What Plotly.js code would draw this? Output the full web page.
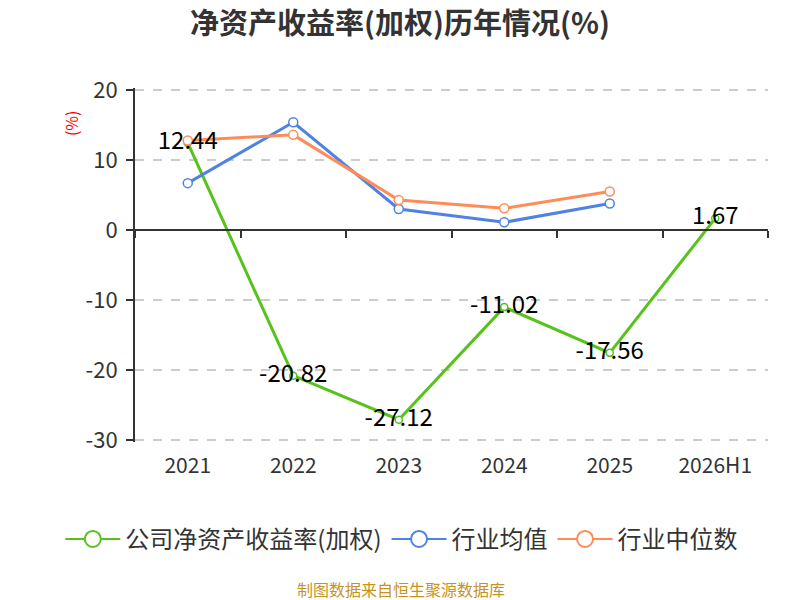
<!DOCTYPE html>
<html>
<head>
<meta charset="utf-8">
<script src="https://cdn.plot.ly/plotly-3.0.1.min.js"></script>
<style>
  html, body { margin: 0; padding: 0; background: #fff; }
  #grafico { width: 800px; height: 600px; }
</style>
</head>
<body>
<div id="grafico"></div>
<script>
// datos
const anios = ["2021", "2022", "2023", "2024", "2025", "2026H1"];
const roeEmpresa = [12.44, -20.82, -27.12, -11.02, -17.56, 1.67];
const promedioIndustria = [6.7, 15.4, 3.0, 1.1, 3.8, null];
const medianaIndustria = [12.8, 13.6, 4.3, 3.1, 5.5, null];
const nombresSeries = ["公司净资产收益率(加权)", "行业均值", "行业中位数"];
const ticksY = [20, 10, 0, -10, -20, -30];

const fuente = "'Noto Sans CJK SC', 'Noto Sans', sans-serif";

const colores = {
  verde: "#58c21c",
  azul: "#4f82e3",
  naranja: "#ff8c57"
};

// un poco de margen para que plotly dibuje la rejilla en 20 y -30
const rangoY = [-30.3, 20.3];

function serie(nombre, valores, color, tamMarca) {
  return {
    type: "scatter",
    mode: "lines+markers",
    name: nombre,
    x: anios,
    y: valores,
    line: { color: color, width: 3 },
    marker: {
      symbol: "circle",
      size: tamMarca,
      color: "#ffffff",
      line: { color: color, width: 1.5 }
    },
    cliponaxis: false,
    showlegend: false
  };
}

// solo para la leyenda (circulo grande, linea fina)
function itemLeyenda(nombre, color) {
  return {
    type: "scatter",
    mode: "lines+markers",
    name: nombre,
    x: anios,
    y: anios.map(() => null),
    line: { color: color, width: 2 },
    marker: {
      symbol: "circle",
      size: 18,
      color: "#ffffff",
      line: { color: color, width: 2 }
    },
    hoverinfo: "skip"
  };
}

const data = [
  serie(nombresSeries[0], roeEmpresa, colores.verde, 7),
  serie(nombresSeries[1], promedioIndustria, colores.azul, 9),
  serie(nombresSeries[2], medianaIndustria, colores.naranja, 9),
  // etiquetas de la empresa encima de todo
  {
    type: "scatter",
    mode: "text",
    x: anios,
    y: roeEmpresa,
    text: roeEmpresa.map(v => v.toFixed(2)),
    textposition: "middle center",
    textfont: { family: fuente, size: 24, color: "#000000" },
    showlegend: false,
    hoverinfo: "skip",
    cliponaxis: false
  },
  // eje auxiliar para las marcas en y = 0
  {
    type: "scatter",
    mode: "markers",
    x: anios,
    y: roeEmpresa,
    xaxis: "x2",
    marker: { opacity: 0 },
    showlegend: false,
    hoverinfo: "skip"
  },
  itemLeyenda(nombresSeries[0], colores.verde),
  itemLeyenda(nombresSeries[1], colores.azul),
  itemLeyenda(nombresSeries[2], colores.naranja)
];

const layout = {
  width: 800,
  height: 600,
  margin: { l: 135, r: 32, t: 88, b: 158 },
  paper_bgcolor: "#ffffff",
  plot_bgcolor: "#ffffff",
  font: { family: fuente, color: "#333333" },
  title: {
    text: "<b>净资产收益率(加权)历年情况(%)</b>",
    x: 0.5,
    xanchor: "center",
    y: 0.96,
    yanchor: "middle",
    font: { family: fuente, size: 29, color: "#333333" }
  },
  xaxis: {
    type: "category",
    range: [-0.5, 5.5],
    showline: false,
    showgrid: false,
    zeroline: false,
    ticks: "",
    tickfont: { family: fuente, size: 21, color: "#333333" },
    ticklabelstandoff: 9,
    fixedrange: true
  },
  xaxis2: {
    type: "category",
    overlaying: "x",
    anchor: "free",
    position: (0 - rangoY[0]) / (rangoY[1] - rangoY[0]),
    side: "bottom",
    range: [-0.5, 5.5],
    showline: true,
    linecolor: "#333333",
    linewidth: 2,
    ticks: "outside",
    tickson: "boundaries",
    ticklen: 7,
    tickwidth: 2,
    tickcolor: "#333333",
    showticklabels: false,
    showgrid: false,
    zeroline: false,
    fixedrange: true
  },
  yaxis: {
    range: rangoY,
    tickvals: ticksY,
    ticktext: ticksY.map(String),
    showline: true,
    linecolor: "#333333",
    linewidth: 2,
    ticks: "outside",
    ticklen: 7,
    tickwidth: 2,
    tickcolor: "#333333",
    tickfont: { family: fuente, size: 22, color: "#333333" },
    ticklabelstandoff: 4,
    showgrid: true,
    gridcolor: "#cccccc",
    griddash: "dash",
    gridwidth: 1.5,
    zeroline: false,
    fixedrange: true
  },
  showlegend: true,
  legend: {
    orientation: "h",
    xref: "paper",
    yref: "paper",
    x: -0.118,
    xanchor: "left",
    y: -0.275,
    yanchor: "middle",
    font: { family: fuente, size: 24, color: "#333333" },
    itemwidth: 55,
    traceorder: "normal"
  },
  annotations: [
    {
      text: "(%)",
      xref: "paper",
      yref: "paper",
      x: -0.1,
      xanchor: "center",
      y: 0.9,
      yanchor: "middle",
      textangle: -90,
      showarrow: false,
      font: { family: fuente, size: 16, color: "#ff0000" }
    },
    {
      text: "制图数据来自恒生聚源数据库",
      xref: "paper",
      yref: "paper",
      x: 0.42,
      y: -0.415,
      xanchor: "center",
      yanchor: "middle",
      showarrow: false,
      font: { family: fuente, size: 16, color: "#c8921e" }
    }
  ]
};

Plotly.newPlot("grafico", data, layout, { displayModeBar: false, staticPlot: true });
</script>
</body>
</html>
